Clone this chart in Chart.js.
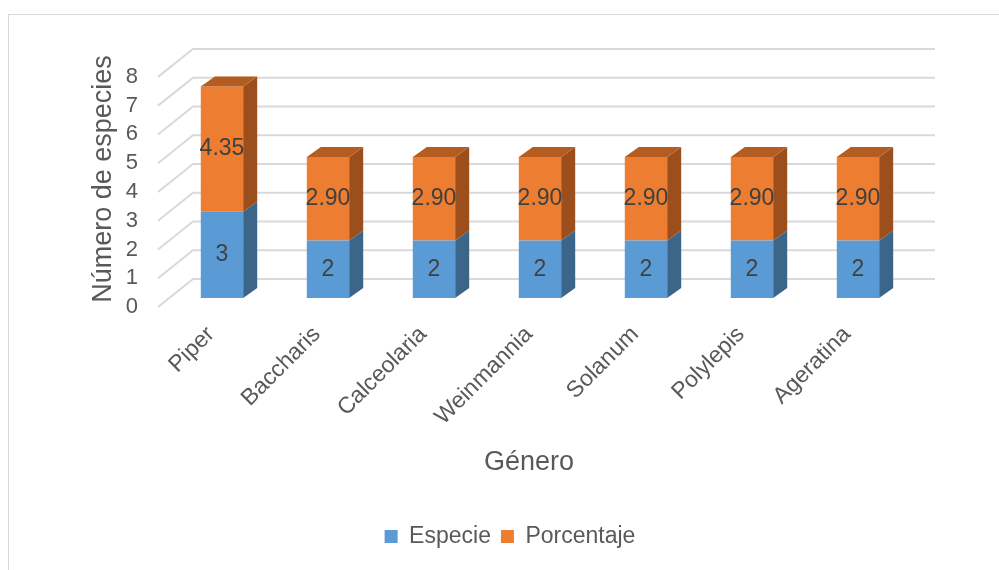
<!DOCTYPE html>
<html>
<head>
<meta charset="utf-8">
<script src="https://cdn.jsdelivr.net/npm/chart.js@4"></script>
<style>
    html, body { margin: 0; padding: 0; background: #fff; overflow: hidden; }
    #wrap { position: relative; width: 999px; height: 570px; overflow: hidden; }
    #frame { position: absolute; left: 8px; top: 14px; width: 2000px; height: 2000px; border: 1px solid #d9d9d9; }
    #chart { position: absolute; left: 0; top: 0; }
</style>
</head>
<body>
<div id="wrap">
    <div id="frame"></div>
    <canvas id="chart" width="999" height="570"></canvas>
</div>
<script>
// Data
const generos = ['Piper', 'Baccharis', 'Calceolaria', 'Weinmannia', 'Solanum', 'Polylepis', 'Ageratina'];
const especie = [3, 2, 2, 2, 2, 2, 2];
const porcentaje = [4.35, 2.90, 2.90, 2.90, 2.90, 2.90, 2.90];
const yTicks = [0, 1, 2, 3, 4, 5, 6, 7, 8];

const FONT = '"Liberation Sans", Arial, sans-serif';
const TEXT = '#595959';

// 3D look (Excel style): wall depth, bar shift and bar depth
const WALL = { dx: 35, dy: -28 };
const SHIFT = { dx: 11, dy: -9 };
const DEPTH = { dx: 14, dy: -10 };

const faces = [
    { side: '#3b6589', top: '#4a7fb0' },
    { side: '#9c4f1d', top: '#b55d21' }
];

const bars3d = {
    id: 'bars3d',
    beforeDatasetsDraw(chart) {
        const { ctx, chartArea, scales: { y } } = chart;
        // back wall gridlines with the diagonal on the left side wall
        ctx.save();
        ctx.strokeStyle = '#d9d9d9';
        ctx.lineWidth = 2;
        yTicks.forEach(v => {
            const py = y.getPixelForValue(v);
            ctx.beginPath();
            ctx.moveTo(chartArea.left, py);
            ctx.lineTo(chartArea.left + WALL.dx, py + WALL.dy);
            ctx.lineTo(chartArea.right + WALL.dx, py + WALL.dy);
            ctx.stroke();
        });
        ctx.restore();

        ctx.save();
        ctx.translate(SHIFT.dx, SHIFT.dy);
    },
    afterDatasetsDraw(chart) {
        const { ctx } = chart;
        const last = chart.data.datasets.length - 1;
        chart.data.datasets.forEach((ds, di) => {
            const meta = chart.getDatasetMeta(di);
            meta.data.forEach(bar => {
                const { x, y, base, width } = bar.getProps(['x', 'y', 'base', 'width'], true);
                const l = x - width / 2, r = x + width / 2;
                // side face
                ctx.fillStyle = faces[di].side;
                ctx.beginPath();
                ctx.moveTo(r, y);
                ctx.lineTo(r + DEPTH.dx, y + DEPTH.dy);
                ctx.lineTo(r + DEPTH.dx, base + DEPTH.dy);
                ctx.lineTo(r, base);
                ctx.closePath();
                ctx.fill();
                // top face on the last segment
                if (di === last) {
                    ctx.fillStyle = faces[di].top;
                    ctx.beginPath();
                    ctx.moveTo(l, y);
                    ctx.lineTo(l + DEPTH.dx, y + DEPTH.dy);
                    ctx.lineTo(r + DEPTH.dx, y + DEPTH.dy);
                    ctx.lineTo(r, y);
                    ctx.closePath();
                    ctx.fill();
                }
            });
        });

        // data labels
        ctx.fillStyle = '#404040';
        ctx.font = '23px ' + FONT;
        ctx.textAlign = 'center';
        ctx.textBaseline = 'middle';
        chart.data.datasets.forEach((ds, di) => {
            const meta = chart.getDatasetMeta(di);
            meta.data.forEach((bar, i) => {
                const { x, y, base } = bar.getProps(['x', 'y', 'base'], true);
                const v = ds.data[i];
                const txt = di === 0 ? String(v) : v.toFixed(2);
                ctx.fillText(txt, x, (y + base) / 2);
            });
        });
        ctx.restore();
    }
};

new Chart(document.getElementById('chart'), {
    type: 'bar',
    data: {
        labels: generos,
        datasets: [
            {
                label: 'Especie',
                data: especie,
                backgroundColor: '#5b9bd5',
                borderWidth: 0,
                barPercentage: 0.4,
                categoryPercentage: 1
            },
            {
                label: 'Porcentaje',
                data: porcentaje,
                backgroundColor: '#ed7d31',
                borderWidth: 0,
                barPercentage: 0.4,
                categoryPercentage: 1
            }
        ]
    },
    options: {
        responsive: false,
        animation: false,
        devicePixelRatio: 1,
        layout: {
            // left padding shifts the legend centre; y axis width makes up for it
            padding: { left: 120, right: 99, top: 51, bottom: 12 }
        },
        plugins: {
            tooltip: { enabled: false },
            legend: {
                position: 'bottom',
                labels: {
                    boxWidth: 13,
                    boxHeight: 13,
                    padding: 10,
                    color: TEXT,
                    font: { family: FONT, size: 23 }
                }
            }
        },
        scales: {
            x: {
                stacked: true,
                grid: { display: false, drawTicks: false },
                border: { display: false },
                ticks: {
                    color: TEXT,
                    font: { family: FONT, size: 23 },
                    minRotation: 45,
                    maxRotation: 45,
                    autoSkip: false,
                    padding: 14
                },
                title: {
                    display: true,
                    text: 'Género',
                    color: TEXT,
                    font: { family: FONT, size: 27 },
                    padding: { top: 0, bottom: 36 }
                },
                afterFit(scale) { scale.height = 208; }
            },
            y: {
                stacked: true,
                min: 0,
                max: 8.9,
                grid: { display: false, drawTicks: false },
                border: { display: false },
                ticks: {
                    stepSize: 1,
                    color: TEXT,
                    font: { family: FONT, size: 22 },
                    padding: 20
                },
                afterBuildTicks(scale) {
                    scale.ticks = yTicks.map(v => ({ value: v }));
                },
                title: {
                    display: true,
                    text: 'Número de especies',
                    color: TEXT,
                    font: { family: FONT, size: 27 },
                    padding: { top: -33, bottom: 0 }
                },
                afterFit(scale) { scale.width = 38; }
            }
        }
    },
    plugins: [bars3d]
});
</script>
</body>
</html>
